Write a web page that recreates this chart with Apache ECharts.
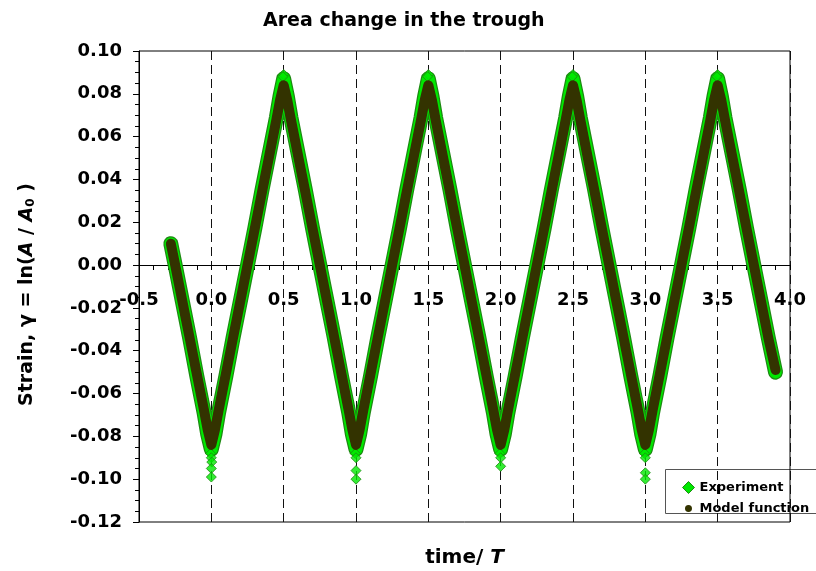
<!DOCTYPE html>
<html>
<head>
<meta charset="utf-8">
<script src="https://cdn.jsdelivr.net/npm/echarts@6/dist/echarts.min.js"></script>
<style>html,body{margin:0;padding:0;background:#fff}#c{width:816px;height:571px}</style>
</head>
<body>
<div id="c"></div>
<script>
// ---- data ----
var time = [-0.28,-0.25,-0.20,-0.15,-0.10,-0.05,-0.025,0.00,
  0.025,0.05,0.10,0.15,0.20,0.25,0.30,0.35,0.40,0.45,0.475,0.50,0.525,0.55,0.60,0.65,0.70,0.75,0.80,0.85,0.90,0.95,0.975,1.00,
  1.025,1.05,1.10,1.15,1.20,1.25,1.30,1.35,1.40,1.45,1.475,1.50,1.525,1.55,1.60,1.65,1.70,1.75,1.80,1.85,1.90,1.95,1.975,2.00,
  2.025,2.05,2.10,2.15,2.20,2.25,2.30,2.35,2.40,2.45,2.475,2.50,2.525,2.55,2.60,2.65,2.70,2.75,2.80,2.85,2.90,2.95,2.975,3.00,
  3.025,3.05,3.10,3.15,3.20,3.25,3.30,3.35,3.40,3.45,3.475,3.50,3.525,3.55,3.60,3.65,3.70,3.75,3.80,3.85,3.90];

var experiment = [0.010,0.000,-0.017,-0.034,-0.052,-0.069,-0.079,-0.086,
  -0.079,-0.069,-0.052,-0.034,-0.017,0.000,0.017,0.035,0.052,0.069,0.079,0.087,0.079,0.069,0.052,0.035,0.017,0.000,-0.017,-0.034,-0.052,-0.069,-0.079,-0.086,
  -0.079,-0.069,-0.052,-0.034,-0.017,0.000,0.017,0.035,0.052,0.069,0.079,0.087,0.079,0.069,0.052,0.035,0.017,0.000,-0.017,-0.034,-0.052,-0.069,-0.079,-0.086,
  -0.079,-0.069,-0.052,-0.034,-0.017,0.000,0.017,0.035,0.052,0.069,0.079,0.087,0.079,0.069,0.052,0.035,0.017,0.000,-0.017,-0.034,-0.052,-0.069,-0.079,-0.086,
  -0.079,-0.069,-0.052,-0.034,-0.017,0.000,0.017,0.035,0.052,0.069,0.079,0.087,0.079,0.069,0.052,0.035,0.017,0.000,-0.017,-0.034,-0.050];

var model = [0.010,0.000,-0.017,-0.034,-0.051,-0.068,-0.077,-0.084,
  -0.077,-0.068,-0.051,-0.034,-0.017,0.000,0.017,0.034,0.051,0.068,0.077,0.084,0.077,0.068,0.051,0.034,0.017,0.000,-0.017,-0.034,-0.051,-0.068,-0.077,-0.084,
  -0.077,-0.068,-0.051,-0.034,-0.017,0.000,0.017,0.034,0.051,0.068,0.077,0.084,0.077,0.068,0.051,0.034,0.017,0.000,-0.017,-0.034,-0.051,-0.068,-0.077,-0.084,
  -0.077,-0.068,-0.051,-0.034,-0.017,0.000,0.017,0.034,0.051,0.068,0.077,0.084,0.077,0.068,0.051,0.034,0.017,0.000,-0.017,-0.034,-0.051,-0.068,-0.077,-0.084,
  -0.077,-0.068,-0.051,-0.034,-0.017,0.000,0.017,0.034,0.051,0.068,0.077,0.084,0.077,0.068,0.051,0.034,0.017,0.000,-0.017,-0.034,-0.049];

// isolated experimental points at the extremes
var extremeTime   = [-0.005,0.000,0.003,0.000,0.000, 0.995,1.000,1.000,1.000, 1.995,2.000,2.000, 2.995,3.000,3.000,3.000,
                     0.500,0.495,1.500,1.495,2.500,2.495,3.500,3.495];
var extremeStrain = [-0.088,-0.090,-0.092,-0.095,-0.099, -0.088,-0.090,-0.096,-0.100, -0.088,-0.090,-0.094, -0.088,-0.090,-0.097,-0.100,
                     0.089,0.088,0.089,0.088,0.089,0.088,0.089,0.088];

var xTicks = [-0.5,0.0,0.5,1.0,1.5,2.0,2.5,3.0,3.5,4.0];
var yTicks = [-0.12,-0.10,-0.08,-0.06,-0.04,-0.02,0.00,0.02,0.04,0.06,0.08,0.10];

function pairs(xs, ys){ return xs.map(function(x,i){ return [x, ys[i]]; }); }

var FONT = 'DejaVu Sans, Verdana, sans-serif';
var GREEN = '#00e800', GREEN_EDGE = '#1d8a12', MODEL = '#333300';
var XMIN = xTicks[0], XMAX = xTicks[xTicks.length-1];
var YMIN = yTicks[0], YMAX = yTicks[yTicks.length-1];
var SMALL_DOT = 'path://M0 0L0.01 0M12 12L12.01 12M6 2.5A3.5 3.5 0 1 1 6 9.5A3.5 3.5 0 1 1 6 2.5Z';

var chart = echarts.init(document.getElementById('c'), null, {renderer:'canvas'});
chart.setOption({
  backgroundColor:'#fff',
  animation:false,
  title:{
    text:'Area change in the trough', left:258, top:7,
    textStyle:{fontFamily:FONT, fontWeight:'bold', fontSize:19, color:'#000'}
  },
  grid:[
    {left:139, right:26, top:51, bottom:49, show:true, borderColor:'#000', borderWidth:1,
     backgroundColor:'transparent', containLabel:false, outerBoundsMode:'none'},
    {left:139, right:26, top:51, height:214, show:false, containLabel:false, outerBoundsMode:'none'}
  ],
  legend:{
    orient:'vertical', left:677, top:476, itemGap:8, itemWidth:12, itemHeight:12,
    textStyle:{fontFamily:FONT, fontWeight:'bold', fontSize:13, color:'#000'},
    data:[
      {name:'Experiment', icon:'diamond', itemStyle:{color:GREEN, borderColor:GREEN_EDGE, borderWidth:1}},
      {name:'Model function', icon:SMALL_DOT, itemStyle:{color:MODEL}}
    ]
  },
  graphic:[{type:'rect', shape:{x:665.5, y:469.5, width:170, height:44}, style:{fill:'#fff', stroke:'#555', lineWidth:1}, z:-1}],
  xAxis:[
    { // main grid: dashed verticals only
      type:'value', gridIndex:0, min:XMIN, max:XMAX, interval:0.5,
      axisLine:{show:false, onZero:false}, axisTick:{show:false}, axisLabel:{show:false},
      splitLine:{show:true, lineStyle:{color:'#111', type:[9,5], width:1}}
    },
    { // the axis drawn along strain = 0
      type:'value', gridIndex:1, min:XMIN, max:XMAX, interval:0.5, position:'bottom',
      axisLine:{show:true, onZero:false, lineStyle:{color:'#000', width:1}},
      axisTick:{show:true, inside:false, length:5, lineStyle:{color:'#000'}},
      minorTick:{show:true, splitNumber:5, length:5, lineStyle:{color:'#000'}},
      axisLabel:{margin:26, fontFamily:FONT, fontWeight:'bold', fontSize:18, color:'#000',
        formatter:function(v){ return v.toFixed(1); }},
      splitLine:{show:false},
      name:'time/ {i|T}', nameLocation:'middle', nameGap:283,
      nameTextStyle:{fontFamily:FONT, fontWeight:'bold', fontSize:20, color:'#000',
        rich:{i:{fontFamily:FONT, fontWeight:'bold', fontStyle:'italic', fontSize:20, color:'#000'}}}
    }
  ],
  yAxis:[
    {
      type:'value', gridIndex:0, min:YMIN, max:YMAX, interval:0.02,
      axisLine:{show:true, onZero:false, lineStyle:{color:'#000', width:1}},
      axisTick:{show:true, inside:false, length:6, lineStyle:{color:'#000'}},
      minorTick:{show:true, splitNumber:4, length:4, lineStyle:{color:'#000'}},
      axisLabel:{margin:17, fontFamily:FONT, fontWeight:'bold', fontSize:18, color:'#000',
        formatter:function(v){ return v.toFixed(2); }},
      splitLine:{show:false},
      name:'Strain, γ = ln({i|A} / {i|A}{s|0} )', nameLocation:'middle', nameRotate:90, nameGap:102,
      nameTextStyle:{fontFamily:FONT, fontWeight:'bold', fontSize:19, color:'#000', padding:[0,16,0,0],
        rich:{i:{fontFamily:FONT, fontWeight:'bold', fontStyle:'italic', fontSize:19, color:'#000'},
              s:{fontFamily:FONT, fontWeight:'bold', fontSize:12, color:'#000', verticalAlign:'bottom'}}}
    },
    {type:'value', gridIndex:1, min:0, max:YMAX, show:false}
  ],
  series:[
    {name:'Experiment', type:'line', xAxisIndex:0, yAxisIndex:0, data:pairs(time, experiment), showSymbol:false, symbol:'none',
      lineStyle:{color:GREEN_EDGE, width:15, join:'round', cap:'round'}, z:2, silent:true},
    {name:'Experiment', type:'line', xAxisIndex:0, yAxisIndex:0, data:pairs(time, experiment), showSymbol:false, symbol:'none',
      lineStyle:{color:GREEN, width:12.5, join:'round', cap:'round'}, z:3, silent:true},
    {name:'Experiment', type:'scatter', xAxisIndex:0, yAxisIndex:0, data:pairs(extremeTime, extremeStrain), symbol:'diamond', symbolSize:10,
      itemStyle:{color:GREEN, borderColor:GREEN_EDGE, borderWidth:1}, z:4},
    {name:'Model function', type:'line', xAxisIndex:0, yAxisIndex:0, data:pairs(time, model), showSymbol:false, symbol:'none',
      lineStyle:{color:MODEL, width:10, join:'round', cap:'round'}, itemStyle:{color:MODEL}, z:5}
  ]
});
</script>
</body>
</html>
